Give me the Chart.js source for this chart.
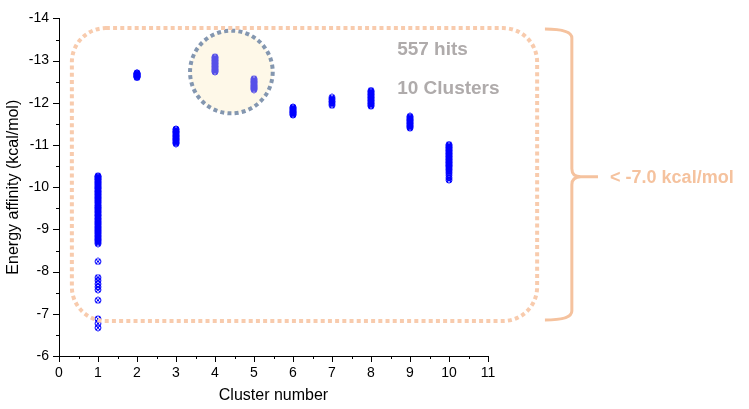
<!DOCTYPE html>
<html>
<head>
<meta charset="utf-8">
<script src="https://cdn.jsdelivr.net/npm/chart.js@4"></script>
<style>
  html, body { margin: 0; padding: 0; background: #fff; }
  #wrap { width: 749px; height: 409px; position: relative; }
</style>
</head>
<body>
<div id="wrap"><canvas id="myChart" width="749" height="409"></canvas></div>
<script>
// docking energies (kcal/mol) per cluster
const cluster1 = [-10.27, -10.25, -10.24, -10.21, -10.19, -10.18, -10.15, -10.12, -10.11, -10.08, -10.06, -10.03, -10.01, -9.98, -9.97, -9.94, -9.91, -9.89, -9.87, -9.84, -9.82, -9.79, -9.76, -9.75, -9.72, -9.69, -9.67, -9.64, -9.62, -9.58, -9.56, -9.53, -9.51, -9.49, -9.46, -9.43, -9.41, -9.38, -9.35, -9.33, -9.31, -9.27, -9.25, -9.22, -9.19, -9.17, -9.14, -9.12, -9.09, -9.06, -9.04, -9.01, -8.98, -8.96, -8.93, -8.91, -8.88, -8.85, -8.83, -8.8, -8.77, -8.75, -8.72, -8.69, -8.66, -8.24, -7.86, -7.79, -7.71, -7.64, -7.57, -7.32, -6.88, -6.77, -6.67];
const cluster2 = [-12.71, -12.70, -12.68, -12.68, -12.67, -12.65, -12.64, -12.64, -12.62, -12.61, -12.60];
const cluster3 = [-11.38, -11.36, -11.33, -11.31, -11.30, -11.27, -11.25, -11.22, -11.21, -11.18, -11.16, -11.14, -11.12, -11.10, -11.07, -11.05, -11.03];
const cluster4 = [-13.09, -13.07, -13.05, -13.02, -13.00, -12.98, -12.95, -12.93, -12.91, -12.88, -12.86, -12.84, -12.81, -12.79, -12.77, -12.75, -12.73];
const cluster5 = [-12.57, -12.55, -12.52, -12.50, -12.48, -12.46, -12.43, -12.41, -12.39, -12.37, -12.35, -12.33, -12.31];
const cluster6 = [-11.90, -11.88, -11.86, -11.84, -11.82, -11.80, -11.78, -11.77, -11.75, -11.73, -11.71];
const cluster7 = [-12.13, -12.09, -12.05, -12.02, -11.98, -11.94];
const cluster8 = [-12.29, -12.27, -12.25, -12.22, -12.20, -12.18, -12.15, -12.13, -12.11, -12.08, -12.06, -12.04, -12.01, -11.99, -11.97, -11.94, -11.92];
const cluster9 = [-11.68, -11.66, -11.63, -11.61, -11.59, -11.57, -11.54, -11.52, -11.50, -11.47, -11.45, -11.43, -11.40];
const cluster10 = [-11.01, -10.99, -10.96, -10.94, -10.92, -10.89, -10.87, -10.85, -10.82, -10.80, -10.78, -10.75, -10.73, -10.71, -10.68, -10.66, -10.64, -10.61, -10.59, -10.57, -10.54, -10.52, -10.50, -10.47, -10.44, -10.41, -10.37, -10.33, -10.28, -10.22, -10.17];
const clusters = [cluster1, cluster2, cluster3, cluster4, cluster5, cluster6, cluster7, cluster8, cluster9, cluster10];

const xTitle = "Cluster number";
const yTitle = "Energy affinity (kcal/mol)";
const hitsLabel = "557 hits";
const clustersLabel = "10 Clusters";
const cutoffLabel = "< -7.0 kcal/mol";

const orange = "#f8cbad";
const orangeDark = "#f5c29e";

//build points
let points = [];
clusters.forEach((vals, i) => {
    vals.forEach(v => points.push({ x: i + 1, y: v }));
});

//crossed circle marker
function makeMarker() {
    let c = document.createElement("canvas");
    c.width = 8; c.height = 8;
    let g = c.getContext("2d");
    g.strokeStyle = "#0000ff";
    g.lineWidth = 1;
    g.beginPath();
    g.arc(4, 4, 3, 0, Math.PI * 2);
    g.stroke();
    g.beginPath();
    g.moveTo(2, 2); g.lineTo(6, 6);
    g.moveTo(6, 2); g.lineTo(2, 6);
    g.stroke();
    return c;
}

//minor/major ticks outside the axes
const tickMarks = {
    id: "tickMarks",
    afterDraw(chart) {
        const ctx = chart.ctx;
        const xs = chart.scales.x, ys = chart.scales.y;
        ctx.save();
        ctx.strokeStyle = "#000";
        ctx.lineWidth = 1;
        ctx.beginPath();
        ys.ticks.forEach(t => {
            let py = Math.round(ys.getPixelForValue(t.value)) + 0.5;
            let len = Number.isInteger(t.value) ? 6 : 3;
            ctx.moveTo(xs.left - len, py);
            ctx.lineTo(xs.left, py);
        });
        xs.ticks.forEach(t => {
            let px = Math.round(xs.getPixelForValue(t.value)) + 0.5;
            let len = Number.isInteger(t.value) ? 6 : 3;
            ctx.moveTo(px, ys.bottom);
            ctx.lineTo(px, ys.bottom + len);
        });
        ctx.stroke();
        ctx.restore();
    }
};

//highlight circle, dotted frame, brace and notes (placed in data units)
const notes = {
    id: "notes",
    afterDatasetsDraw(chart) {
        const ctx = chart.ctx;
        const xs = chart.scales.x, ys = chart.scales.y;
        const X = v => xs.getPixelForValue(v);
        const Y = v => ys.getPixelForValue(v);
        ctx.save();

        // circle around clusters 4 and 5
        let cx = X(4.42), cy = Y(-12.73), r = X(4.42) - X(3.36);
        ctx.fillStyle = "rgba(252, 234, 187, 0.34)";
        ctx.beginPath();
        ctx.arc(cx, cy, r, 0, Math.PI * 2);
        ctx.fill();
        ctx.strokeStyle = "#8497b0";
        ctx.lineWidth = 4;
        ctx.setLineDash([4, 3.2]);
        ctx.beginPath();
        ctx.arc(cx, cy, r, 0, Math.PI * 2);
        ctx.stroke();

        // dotted rounded frame
        let l = X(0.33), rt = X(12.26), tp = Y(-13.77), bt = Y(-6.83);
        ctx.strokeStyle = orange;
        ctx.beginPath();
        ctx.roundRect(l, tp, rt - l, bt - tp, 34);
        ctx.stroke();

        // brace
        ctx.setLineDash([]);
        ctx.strokeStyle = orangeDark;
        ctx.lineWidth = 3;
        let bx0 = X(12.46), bx = X(13.15), tip = X(13.82), mid = Y(-10.25);
        ctx.beginPath();
        ctx.moveTo(bx0, tp + 1);
        ctx.quadraticCurveTo(bx, tp + 1, bx, tp + 10);
        ctx.lineTo(bx, mid - 8);
        ctx.quadraticCurveTo(bx, mid, bx + 9, mid);
        ctx.lineTo(tip, mid);
        ctx.moveTo(bx + 9, mid);
        ctx.quadraticCurveTo(bx, mid, bx, mid + 8);
        ctx.lineTo(bx, bt - 10);
        ctx.quadraticCurveTo(bx, bt - 1, bx0, bt - 1);
        ctx.stroke();

        // texts
        ctx.textBaseline = "middle";
        ctx.textAlign = "left";
        ctx.fillStyle = orangeDark;
        ctx.font = "bold 18px 'Liberation Sans', Arial, sans-serif";
        ctx.fillText(cutoffLabel, X(14.13), mid + 1);
        ctx.fillStyle = "#afabab";
        ctx.font = "bold 19px 'Liberation Sans', Arial, sans-serif";
        ctx.textBaseline = "alphabetic";
        ctx.fillText(hitsLabel, X(8.67), Y(-13.14));
        ctx.fillText(clustersLabel, X(8.67), Y(-12.22));
        ctx.restore();
    }
};

Chart.defaults.font.family = "'Liberation Sans', Arial, sans-serif";
Chart.defaults.color = "#000";

let ctx = document.getElementById("myChart").getContext("2d");
let myChart = new Chart(ctx, {
    type: "scatter",
    data: {
        datasets: [{
            data: points,
            pointStyle: makeMarker(),
            pointRadius: 4,
            pointHoverRadius: 4
        }]
    },
    plugins: [notes, tickMarks],
    options: {
        responsive: false,
        animation: false,
        events: [],
        layout: { padding: { top: 10, right: 261, left: 0, bottom: 0 } },
        plugins: { legend: { display: false }, tooltip: { enabled: false } },
        scales: {
            x: {
                type: "linear",
                min: 0,
                max: 11,
                afterFit(scale) { scale.height = 53; },
                ticks: {
                    stepSize: 0.5,
                    autoSkip: false,
                    maxRotation: 0,
                    padding: 9,
                    font: { size: 14 },
                    callback: v => Number.isInteger(v) ? String(v) : ""
                },
                grid: { display: true, drawOnChartArea: false, drawTicks: false },
                border: { display: true, color: "#000", width: 1 },
                title: { display: true, text: xTitle, font: { size: 16 }, padding: { top: 0, bottom: 4 } }
            },
            y: {
                type: "linear",
                min: -14,
                max: -6,
                reverse: true,
                afterFit(scale) { scale.width = 59; },
                ticks: {
                    stepSize: 0.5,
                    autoSkip: false,
                    padding: 10,
                    font: { size: 14 },
                    callback: v => Number.isInteger(v) ? String(v) : ""
                },
                grid: { display: true, drawOnChartArea: false, drawTicks: false },
                border: { display: true, color: "#000", width: 1 },
                title: { display: true, text: yTitle, font: { size: 16 }, padding: { top: 4, bottom: 0 } }
            }
        }
    }
});
</script>
</body>
</html>
